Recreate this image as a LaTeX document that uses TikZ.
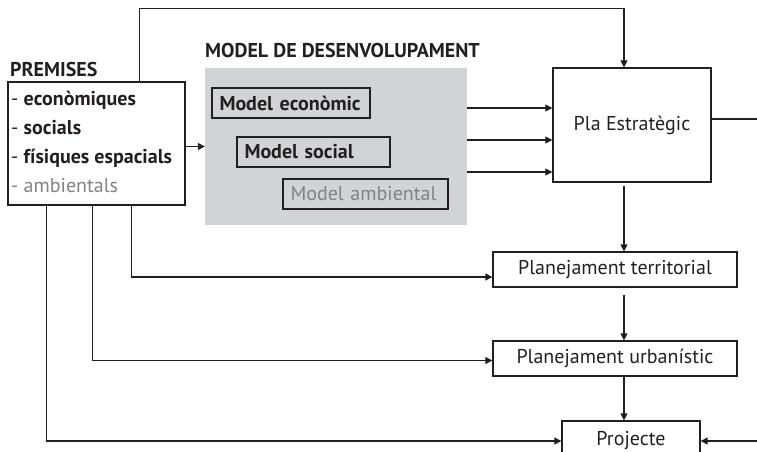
\documentclass[tikz,border=0pt]{standalone}
\usepackage{fontspec}
\setmainfont{PT Sans}
\usetikzlibrary{arrows.meta}
\definecolor{ink}{HTML}{231F20}
\definecolor{panel}{HTML}{D1D3D4}
\definecolor{faded}{HTML}{808285}
\tikzset{
  box/.style={draw=ink, line width=1.3pt, inner sep=0pt},
  mbox/.style={box, minimum height=30pt, inner xsep=7.5pt, text width=#1, align=left},
  link/.style={draw=ink, line width=1.3pt},
  arr/.style={link, -{Triangle[length=7pt,width=7pt]}},
  heading/.style={anchor=base west, inner sep=0pt, font=\fontsize{20}{22}\selectfont\bfseries},
}
\begin{document}
\begin{tikzpicture}[x=1pt, y=-1pt, font=\fontsize{20}{22}\selectfont, text=ink]
\useasboundingbox (0,0) rectangle (757,452);
% premisses
\node[heading] (premtitle) at (10,77) {PREMISES};
\node[box, minimum width=177pt, minimum height=123pt] (prem) at (96.5,143.5) {};
\foreach \txt [count=\i] in {{- \textbf{econòmiques}}, {- \textbf{socials}}, {- \textbf{físiques espacials}}, {\color{faded}- ambientals}}
  \node[anchor=base west, inner sep=0pt] (prem\i) at (11,76+29*\i) {\txt};
% model de desenvolupament
\node[heading] (modeltitle) at (205,57) {MODEL DE DESENVOLUPAMENT};
\node[fill=panel, minimum width=262pt, minimum height=157pt, inner sep=0pt] (model) at (336,146.5) {};
\node[mbox=143pt, font=\fontsize{20}{22}\selectfont\bfseries] (econ) at (291,103) {Model econòmic};
\node[mbox=138pt, font=\fontsize{20}{22}\selectfont\bfseries] (social) at (313.5,152) {Model social};
\node[mbox=150pt, text=faded] (amb) at (365.5,194) {Model ambiental};
% plans
\node[box, minimum width=158pt, minimum height=114pt] (pla) at (632,125) {Pla Estratègic};
\node[box, minimum width=244pt, minimum height=35pt] (terr) at (615,269.5) {Planejament territorial};
\node[box, minimum width=244pt, minimum height=35pt] (urb) at (615,358.5) {Planejament urbanístic};
\node[box, minimum width=138pt, minimum height=40pt] (proj) at (631,441) {Projecte};
\coordinate (spine) at (624,0);
\coordinate (rightout) at (757,119);
\coordinate (rightin) at (757,441);
% connexions
\draw[arr] ([xshift=132pt]prem.north west) -- ++(0,-73) -| (pla.north -| spine);
\draw[arr] (prem.east |- model.west) -- (model.west);
\foreach \dy in {38.5,6.5,-25.5}
  \draw[arr] ([yshift=\dy pt]model.east) -- ([yshift=\dy pt]model.east -| pla.west);
\draw[link] (pla.east |- rightout) -- (rightout);
\draw[arr, shorten <=3pt] (pla.south -| spine) -- (terr.north -| spine);
\draw[arr, shorten <=7pt] (terr.south -| spine) -- (urb.north -| spine);
\draw[arr] (urb.south -| spine) -- (proj.north -| spine);
\draw[arr] ([xshift=124pt]prem.south west) |- ([yshift=-7.5pt]terr.west);
\draw[arr] ([xshift=85pt]prem.south west) |- ([yshift=-2pt]urb.west);
\draw[arr] ([xshift=39pt]prem.south west) |- (proj.west);
\draw[arr] (rightin) -- (proj.east);
\end{tikzpicture}
\end{document}
